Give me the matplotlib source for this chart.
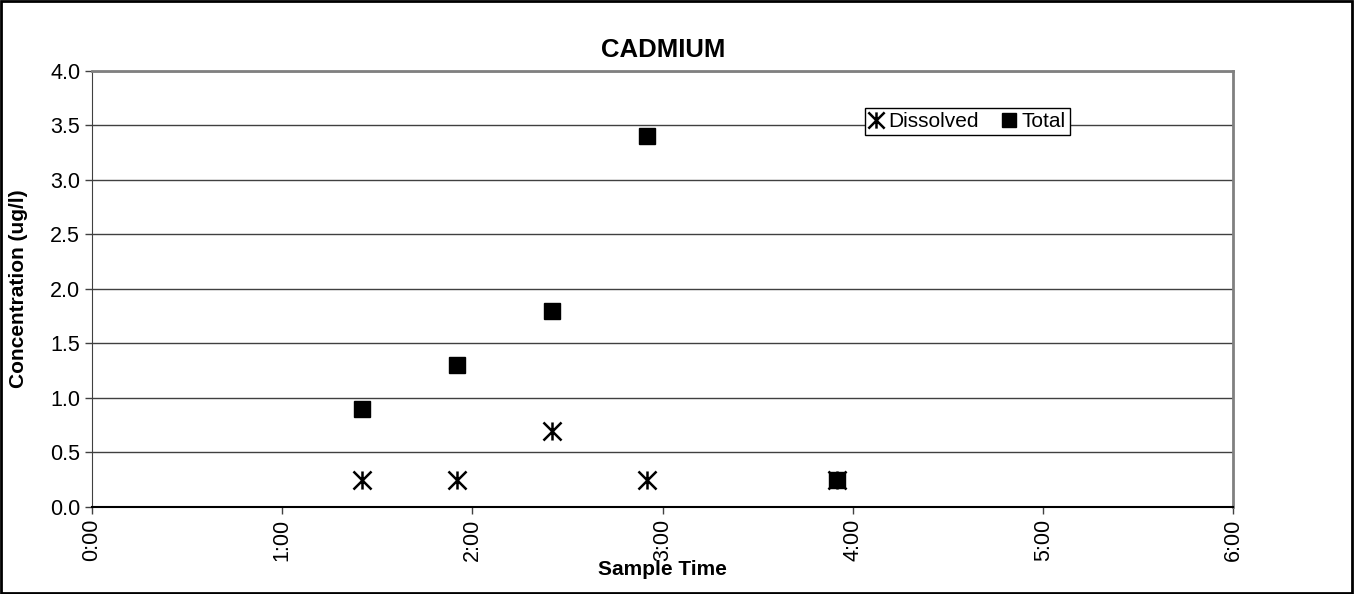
import matplotlib.pyplot as plt
from matplotlib.path import Path
from matplotlib.patches import Rectangle

# data
sample_times = ['1:25', '1:55', '2:25', '2:55', '3:55']
dissolved = [0.25, 0.25, 0.7, 0.25, 0.25]
total = [0.9, 1.3, 1.8, 3.4, 0.25]
x_tick_labels = ['0:00', '1:00', '2:00', '3:00', '4:00', '5:00', '6:00']
y_ticks = [0.0, 0.5, 1.0, 1.5, 2.0, 2.5, 3.0, 3.5, 4.0]


def to_hours(s):
    h, m = s.split(':')
    return int(h) + int(m) / 60


x = [to_hours(t) for t in sample_times]
x_ticks = [to_hours(t) for t in x_tick_labels]

plt.rcParams['font.family'] = ['Liberation Sans', 'DejaVu Sans']

# Excel style star: an X with a vertical bar
star = Path([(-1, -1), (1, 1), (-1, 1), (1, -1), (0, -1), (0, 1)],
            [Path.MOVETO, Path.LINETO, Path.MOVETO, Path.LINETO, Path.MOVETO, Path.LINETO])

fig = plt.figure(figsize=(13.55, 5.94), dpi=100)
ax = fig.add_axes([0.0679, 0.1465, 0.8424, 0.7345])

ax.plot(x, dissolved, linestyle='none', marker=star, markersize=13,
        markeredgewidth=1.8, color='black', label='Dissolved', zorder=3)
ax.plot(x, total, linestyle='none', marker='s', markersize=11,
        color='black', label='Total', zorder=3)

ax.set_xlim(0, 6)
ax.set_ylim(0, 4)
ax.set_xticks(x_ticks)
ax.set_xticklabels(x_tick_labels, rotation=90, fontsize=15.5)
ax.set_yticks(y_ticks)
ax.set_yticklabels([f'{v:.1f}' for v in y_ticks], fontsize=15.5)
ax.tick_params(direction='out', length=5, width=1, color='#404040')
ax.yaxis.grid(True, color='#404040', linewidth=1)
ax.set_axisbelow(True)

for side in ('top', 'right'):
    ax.spines[side].set_color('#808080')
    ax.spines[side].set_linewidth(2)
ax.spines['left'].set_color('#404040')
ax.spines['bottom'].set_color('black')
ax.spines['bottom'].set_linewidth(1.5)

ax.set_title('CADMIUM', fontsize=18.5, fontweight='bold', pad=10)
ax.set_xlabel('Sample Time', fontsize=15, fontweight='bold')
ax.set_ylabel('Concentration (ug/l)', fontsize=15, fontweight='bold')
ax.xaxis.set_label_coords(0.5, -0.122)
ax.yaxis.set_label_coords(-0.056, 0.5)

leg = ax.legend(loc='upper left', bbox_to_anchor=(0.677, 0.915), ncol=2, fontsize=15,
                frameon=True, fancybox=False, edgecolor='black', framealpha=1,
                handlelength=0.7, handletextpad=0.25, columnspacing=1.1,
                borderpad=0.2, borderaxespad=0, markerscale=0.9)
leg.get_frame().set_linewidth(1)

fig.patches.append(Rectangle((0.001, 0.002), 0.997, 0.996, transform=fig.transFigure,
                             fill=False, edgecolor='black', linewidth=2))

plt.savefig('out.png')
